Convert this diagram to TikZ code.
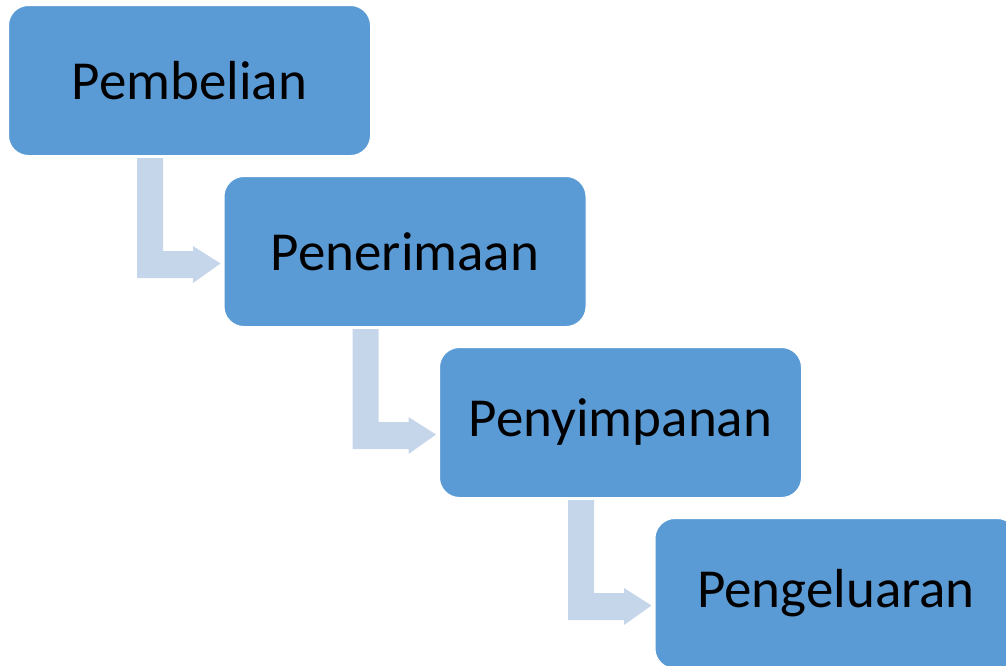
\documentclass[tikz,border=0pt]{standalone}
\usepackage{fontspec}
\setmainfont{Carlito}
\usetikzlibrary{calc}
\definecolor{boxblue}{HTML}{5B9BD5}
\definecolor{arrowblue}{HTML}{C5D5EA}
\tikzset{
  stage/.style={draw=white, line width=1pt, fill=boxblue, rounded corners=20pt,
    minimum width=362pt, minimum height=150pt, inner sep=0pt,
    font=\fontsize{55}{60}\selectfont, text=black, anchor=north west},
  bent/.style={fill=arrowblue, draw=none}
}
\newcommand\bentarrow[2]{%
  \coordinate (tip) at ($(#2.north west)+(-3,87.5)$);
  \fill[bent] ($(#1.south west)+(129,2)$) -- ($(#1.south west)+(155,2)$)
    -- ($(#1.south west)+(155,95)$) -- ($(#1.south west)+(185,95)$)
    -- ($(#1.south west)+(185,90)$) -- (tip)
    -- ($(#1.south west)+(185,127)$) -- ($(#1.south west)+(185,122)$)
    -- ($(#1.south west)+(129,122)$) -- cycle;
}
\begin{document}
\begin{tikzpicture}[x=1pt,y=-1pt]
\useasboundingbox (0,0) rectangle (1006,665);
\clip (0,0) rectangle (1006,665);
\node[stage] (b1) at (8,5) {Pembelian};
\node[stage] (b2) at (223.5,176) {Penerimaan};
\node[stage] (b3) at (439,347) {Penyimpanan};
\node[stage] (b4) at (654.5,518) {Pengeluaran};
\bentarrow{b1}{b2}
\bentarrow{b2}{b3}
\bentarrow{b3}{b4}
\end{tikzpicture}
\end{document}
